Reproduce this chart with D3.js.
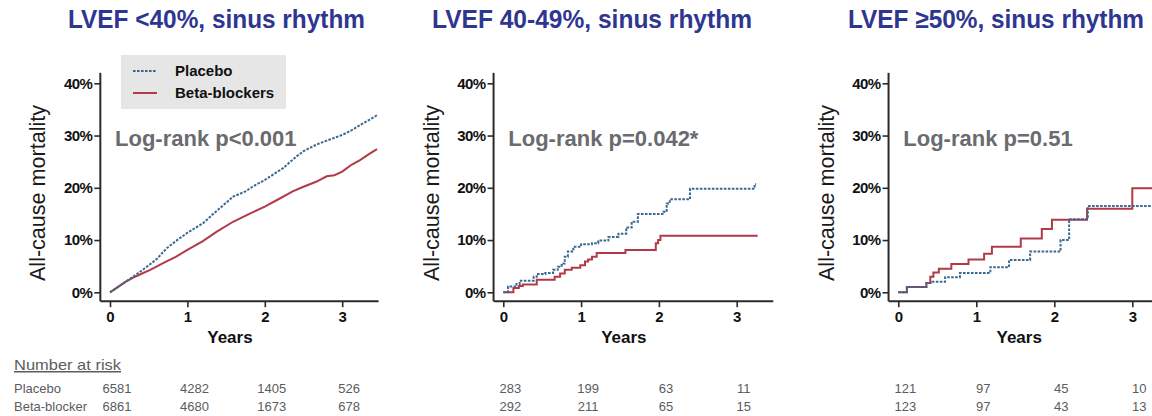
<!DOCTYPE html>
<html>
<head>
<meta charset="utf-8">
<script src="https://cdn.jsdelivr.net/npm/d3@7"></script>
<style>
  html, body { margin: 0; padding: 0; background: #fff; }
  svg { display: block; }
  text { font-family: "Liberation Sans", Arial, sans-serif; }
</style>
</head>
<body>
<svg id="chart" width="1152" height="416"></svg>
<script>
// ---- Data -------------------------------------------------------------
const panelTitles = ["LVEF <40%, sinus rhythm", "LVEF 40-49%, sinus rhythm", "LVEF \u226550%, sinus rhythm"];
const logRankLabels = ["Log-rank p<0.001", "Log-rank p=0.042*", "Log-rank p=0.51"];
const yearTicks = [0, 1, 2, 3];
const mortalityTicks = [0, 10, 20, 30, 40];
const seriesNames = ["Placebo", "Beta-blockers"];
const riskRowLabels = ["Placebo", "Beta-blocker"];

// cumulative all-cause mortality, [years, %]
const placeboLt40 = [[0,0],[0.1,1.0],[0.2,2.0],[0.3,3.0],[0.45,4.6],[0.6,6.3],[0.73,8.4],[0.85,9.8],[1.0,11.4],[1.2,13.2],[1.38,15.6],[1.59,18.3],[1.75,19.3],[1.85,20.3],[2.0,21.5],[2.24,23.8],[2.4,25.9],[2.5,27.0],[2.67,28.3],[2.85,29.3],[3.0,30.1],[3.12,31.0],[3.23,32.0],[3.35,33.0],[3.45,33.9]];
const betaLt40 = [[0,0],[0.1,1.0],[0.2,2.0],[0.3,2.8],[0.4,3.5],[0.52,4.3],[0.73,5.9],[0.85,6.8],[1.0,8.1],[1.2,9.8],[1.38,11.6],[1.59,13.5],[1.8,15.0],[2.0,16.4],[2.2,18.0],[2.36,19.3],[2.5,20.2],[2.67,21.2],[2.8,22.2],[2.9,22.4],[3.0,23.1],[3.12,24.4],[3.23,25.3],[3.35,26.5],[3.45,27.4]];

const placebo40to49 = [[0,0],[0.06,1.1],[0.17,1.6],[0.21,2.2],[0.39,3.0],[0.43,3.5],[0.54,3.7],[0.64,4.3],[0.7,4.9],[0.75,5.5],[0.79,6.8],[0.83,7.8],[0.9,8.7],[1.0,9.2],[1.14,9.4],[1.22,9.9],[1.35,10.6],[1.48,11.2],[1.58,12.4],[1.65,13.5],[1.73,15.0],[2.06,15.4],[2.1,17.0],[2.14,17.8],[2.4,19.8],[3.23,20.7],[3.25,20.7]];
const beta40to49 = [[0,0],[0.13,0.8],[0.2,1.2],[0.25,1.5],[0.43,2.4],[0.66,3.0],[0.73,3.6],[0.79,4.3],[0.88,4.7],[0.99,5.2],[1.05,5.9],[1.09,6.3],[1.14,6.8],[1.2,7.5],[1.57,8.1],[1.96,9.4],[1.99,10.0],[2.02,10.8],[3.27,10.8]];

const placeboGe50 = [[0,0],[0.11,1.0],[0.36,1.8],[0.44,2.0],[0.6,2.9],[0.79,3.7],[1.18,4.8],[1.42,6.2],[1.69,7.8],[2.08,10.0],[2.19,14.0],[2.43,16.5],[3.3,16.5]];
const betaGe50 = [[0,0],[0.11,1.0],[0.36,1.8],[0.41,3.0],[0.45,3.8],[0.52,4.5],[0.68,5.4],[0.9,6.3],[1.1,7.4],[1.2,8.7],[1.57,10.3],[1.84,12.1],[1.97,13.9],[2.42,16.0],[3.0,19.9],[3.3,19.9]];

const riskPlacebo = [[6581, 4282, 1405, 526], [283, 199, 63, 11], [121, 97, 45, 10]];
const riskBeta = [[6861, 4680, 1673, 678], [292, 211, 65, 15], [123, 97, 43, 13]];

const panelSeries = [
  { placebo: placeboLt40, beta: betaLt40, curve: d3.curveLinear },
  { placebo: placebo40to49, beta: beta40to49, curve: d3.curveStepAfter },
  { placebo: placeboGe50, beta: betaGe50, curve: d3.curveStepAfter }
];

// ---- Layout & style ---------------------------------------------------
const panelOrigin = [110, 503.3, 898.3];     // pixel of year 0
const pxPerYear = [77.4, 77.8, 78];
const titleCenter = [216.5, 592, 996];
const titleWidth = [297, 320, 296];
const plotTop = 83.3, plotBottom = 292.3;

const placeboColor = "#3b6890";
const betaColor = "#b23a48";
const titleColor = "#2e3690";
const axisColor = "#2a2a2a";
const greyText = "#6a6b6e";
const tableText = "#5b5c5e";

const svg = d3.select("#chart");

panelSeries.forEach((p, i) => {
  const x = d3.scaleLinear().domain([0, 3]).range([panelOrigin[i], panelOrigin[i] + 3 * pxPerYear[i]]);
  const y = d3.scaleLinear().domain([0, 40]).range([plotBottom, plotTop]);
  const g = svg.append("g");

  const axisX = x(-0.125);
  const axisY = y(-1.7);

  // title: narrow bold face, stretched vertically
  g.append("text")
    .attr("transform", `translate(${titleCenter[i]},28) scale(1,1.18)`)
    .attr("text-anchor", "middle")
    .attr("textLength", titleWidth[i]).attr("lengthAdjust", "spacingAndGlyphs")
    .style("font-size", "22px").style("font-weight", "bold")
    .attr("fill", titleColor)
    .text(panelTitles[i]);

  // y axis
  const yAxis = d3.axisLeft(y).tickValues(mortalityTicks).tickFormat(d => d + "%").tickSize(6).tickPadding(2);
  const gy = g.append("g").attr("transform", `translate(${axisX},0)`).call(yAxis);
  gy.select(".domain").remove();
  gy.selectAll(".tick line").attr("stroke", axisColor).attr("stroke-width", 1.6);
  gy.selectAll(".tick text")
    .style("font-size", "15px").style("font-weight", "bold")
    .attr("fill", "#111").attr("letter-spacing", "-0.6");
  g.append("line")
    .attr("x1", axisX).attr("x2", axisX)
    .attr("y1", y(42)).attr("y2", axisY)
    .attr("stroke", axisColor).attr("stroke-width", 2);

  // x axis
  const xAxis = d3.axisBottom(x).tickValues(yearTicks).tickFormat(d3.format("d")).tickSize(6).tickPadding(4);
  const gx = g.append("g").attr("transform", `translate(0,${axisY})`).call(xAxis);
  gx.select(".domain").remove();
  gx.selectAll(".tick line").attr("stroke", axisColor).attr("stroke-width", 1.6);
  gx.selectAll(".tick text")
    .style("font-size", "15px").style("font-weight", "bold").attr("fill", "#111");
  g.append("line")
    .attr("x1", axisX).attr("x2", x(3.47))
    .attr("y1", axisY).attr("y2", axisY)
    .attr("stroke", axisColor).attr("stroke-width", 2);

  // axis titles
  g.append("text")
    .attr("x", x(1.55)).attr("y", 343)
    .attr("text-anchor", "middle")
    .style("font-size", "17px").style("font-weight", "bold").attr("fill", "#111")
    .text("Years");
  g.append("text")
    .attr("transform", `translate(${axisX - 55},${y(19)}) rotate(-90)`)
    .attr("text-anchor", "middle")
    .attr("textLength", 176).attr("lengthAdjust", "spacingAndGlyphs")
    .style("font-size", "22px").attr("fill", "#1a1a1a")
    .text("All-cause mortality");

  // log-rank annotation
  g.append("text")
    .attr("x", x(0) + 5).attr("y", 146)
    .style("font-size", "22px").style("font-weight", "bold").attr("fill", greyText)
    .text(logRankLabels[i]);

  // survival curves
  const line = d3.line().x(d => x(d[0])).y(d => y(d[1])).curve(p.curve);
  g.append("path").datum(p.beta)
    .attr("d", line).attr("fill", "none")
    .attr("stroke", betaColor).attr("stroke-width", 2);
  g.append("path").datum(p.placebo)
    .attr("d", line).attr("fill", "none")
    .attr("stroke", placeboColor).attr("stroke-width", 2)
    .attr("stroke-dasharray", "2.6,1.4");

  // numbers at risk
  [riskPlacebo[i], riskBeta[i]].forEach((row, r) => {
    g.selectAll(null).data(row).enter().append("text")
      .attr("x", (d, k) => x(yearTicks[k]) + 7)
      .attr("y", r === 0 ? 393 : 411)
      .attr("text-anchor", "middle")
      .style("font-size", "13px").attr("fill", tableText)
      .text(d => d);
  });
});

// legend (first panel)
const legend = svg.append("g");
legend.append("rect").attr("x", 121).attr("y", 55).attr("width", 165).attr("height", 54).attr("fill", "#e6e6e6");
[placeboColor, betaColor].forEach((c, k) => {
  const ly = k === 0 ? 71 : 93;
  legend.append("line")
    .attr("x1", 133).attr("x2", 157).attr("y1", ly).attr("y2", ly)
    .attr("stroke", c).attr("stroke-width", 2)
    .attr("stroke-dasharray", k === 0 ? "2.6,1.4" : null);
  legend.append("text")
    .attr("x", 175).attr("y", ly + 5)
    .style("font-size", "15px").style("font-weight", "bold").attr("fill", "#111")
    .text(seriesNames[k]);
});

// risk table labels
svg.append("text").attr("x", 14).attr("y", 370)
  .style("font-size", "15px").style("text-decoration", "underline").attr("fill", tableText)
  .attr("textLength", 107).attr("lengthAdjust", "spacingAndGlyphs")
  .text("Number at risk");
riskRowLabels.forEach((lab, r) => {
  svg.append("text").attr("x", 14).attr("y", r === 0 ? 393 : 411)
    .style("font-size", "13px").attr("fill", tableText)
    .text(lab);
});
</script>
</body>
</html>
